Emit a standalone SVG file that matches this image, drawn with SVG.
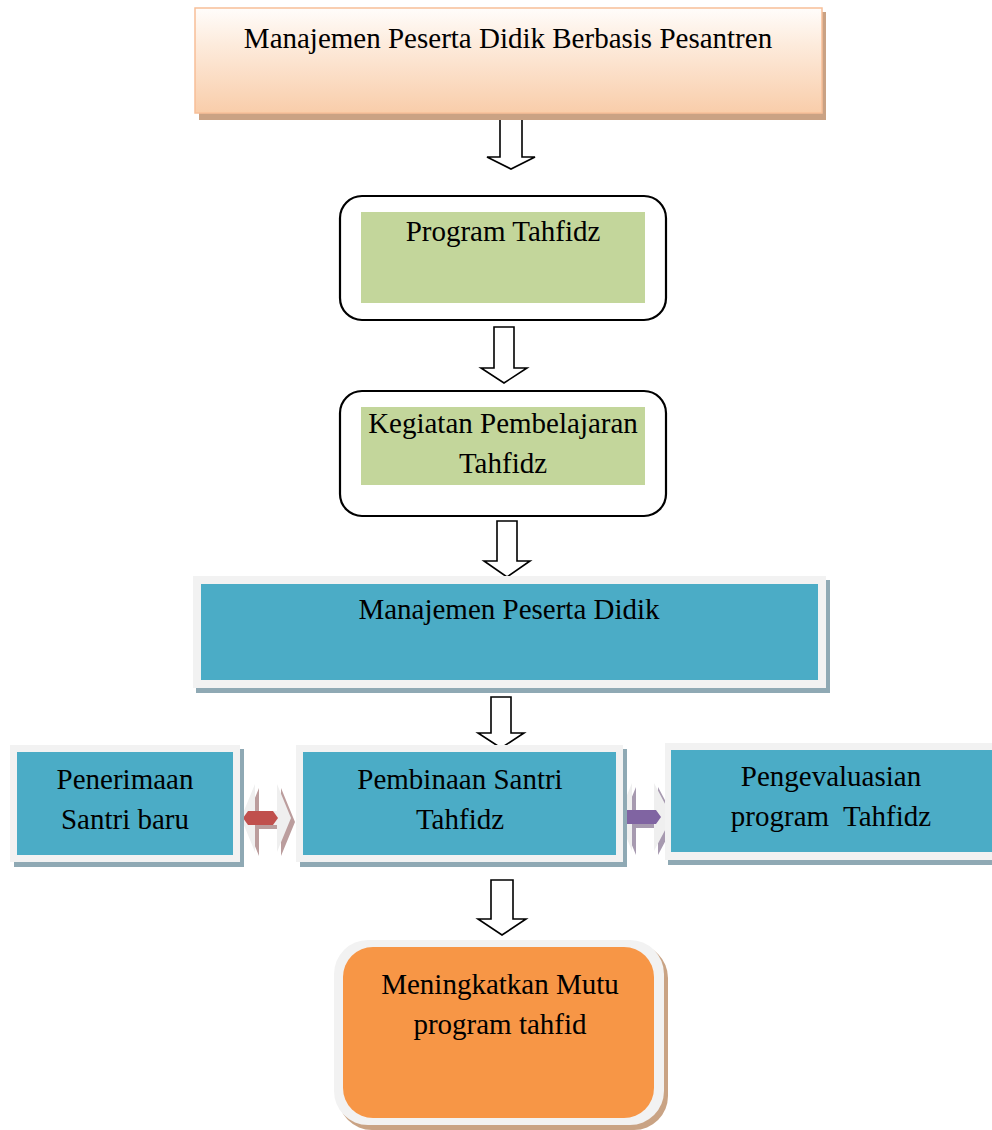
<svg xmlns="http://www.w3.org/2000/svg" width="992" height="1130" viewBox="0 0 992 1130">
<defs>
<linearGradient id="peach" x1="0" y1="0" x2="0" y2="1">
<stop offset="0" stop-color="#fffdfb"/>
<stop offset="0.35" stop-color="#fdebdc"/>
<stop offset="1" stop-color="#f9cdaa"/>
</linearGradient>
<style>
text{font-family:"Liberation Serif","Times New Roman",serif;font-size:29px;fill:#000;text-anchor:middle}
.blk{fill:#fff;stroke:#000;stroke-width:1.6;stroke-linejoin:miter}
.rnd{fill:#fff;stroke:#000;stroke-width:2.2}
.grn{fill:#c3d69b}
.frame{fill:#f2f2f2}
.bshadow{fill:#8fa9b4}
.blue{fill:#4bacc6}
</style>
</defs>
<rect width="992" height="1130" fill="#fff"/>

<g id="connectors">
<path class="blk" d="M500,113 V157 H487 L511,169 L535,157 H522 V113 Z"/>
<path class="blk" d="M494,327 V368 H481 L504,383 L527,368 H514 V327 Z"/>
<path class="blk" d="M497,521 V561 H484 L507,577 L530,561 H517 V521 Z"/>
<path class="blk" d="M491,697 V733 H478 L501,748 L524,733 H511 V697 Z"/>
<path class="blk" d="M491,880 V919 H478 L502,935 L526,919 H513 V880 Z"/>
<g id="dbl-left">
<path fill="#bb9d9d" d="M245,822 L259,788 L259,815 L281,815 L281,788 L295,822 L281,856 L281,829 L259,829 L259,856 Z"/>
<path fill="#efefef" d="M241,818 L255,784 L255,811 L277,811 L277,784 L291,818 L277,852 L277,825 L255,825 L255,852 Z"/>
<path fill="#c0504d" d="M243,818 L248,811 L273,811 L278,818 L273,825 L248,825 Z"/>
</g>
<g id="dbl-right">
<path fill="#a79ab0" d="M622,821 L636,787 L636,814 L658,814 L658,787 L676,821 L658,855 L658,828 L636,828 L636,855 Z"/>
<path fill="#efefef" d="M618,817 L632,783 L632,810 L654,810 L654,783 L672,817 L654,851 L654,824 L632,824 L632,851 Z"/>
<path fill="#8064a2" d="M621,817 L626,810 L656,810 L661,817 L656,824 L626,824 Z"/>
</g>
</g>

<g id="node-top">
<rect x="199" y="12" width="627" height="108" fill="#caa284"/>
<rect x="195" y="8" width="627" height="105" fill="url(#peach)" stroke="#f7bf98" stroke-width="1.5"/>
<text x="508" y="48">Manajemen Peserta Didik Berbasis Pesantren</text>
</g>

<g id="node-program">
<rect class="rnd" x="340" y="196" width="326" height="124" rx="22"/>
<rect class="grn" x="361" y="212" width="284" height="91"/>
<text x="503" y="241">Program Tahfidz</text>
</g>

<g id="node-kegiatan">
<rect class="rnd" x="340" y="391" width="326" height="125" rx="22"/>
<rect class="grn" x="361" y="407" width="284" height="78"/>
<text x="503" y="433">Kegiatan Pembelajaran</text>
<text x="503" y="473">Tahfidz</text>
</g>

<g id="node-manajemen">
<rect class="bshadow" x="196" y="580" width="634" height="113"/>
<rect class="frame" x="193" y="576" width="633" height="112"/>
<rect class="blue" x="201" y="584" width="617" height="96"/>
<text x="509" y="619">Manajemen Peserta Didik</text>
</g>

<g id="node-penerimaan">
<rect class="bshadow" x="14" y="749" width="230" height="118"/>
<rect class="frame" x="10" y="745" width="230" height="117"/>
<rect class="blue" x="17" y="752" width="216" height="103"/>
<text x="125" y="789">Penerimaan</text>
<text x="125" y="829">Santri baru</text>
</g>

<g id="node-pembinaan">
<rect class="bshadow" x="300" y="749" width="327" height="118"/>
<rect class="frame" x="296" y="745" width="327" height="117"/>
<rect class="blue" x="303" y="752" width="313" height="103"/>
<text x="460" y="789">Pembinaan Santri</text>
<text x="460" y="829">Tahfidz</text>
</g>

<g id="node-evaluasi">
<rect class="bshadow" x="668" y="747" width="330" height="118"/>
<rect class="frame" x="665" y="743" width="330" height="117"/>
<rect class="blue" x="671" y="750" width="330" height="102"/>
<text x="831" y="786" xml:space="preserve">Pengevaluasian</text>
<text x="831" y="826" xml:space="preserve">program  Tahfidz</text>
</g>

<g id="node-mutu">
<rect x="338" y="944" width="330" height="186" rx="34" fill="#c9a384"/>
<rect x="334" y="940" width="330" height="185" rx="34" fill="#f2f2f2"/>
<rect x="343" y="947" width="311" height="171" rx="30" fill="#f79646"/>
<text x="500" y="994">Meningkatkan Mutu</text>
<text x="500" y="1034">program tahfid</text>
</g>
</svg>
